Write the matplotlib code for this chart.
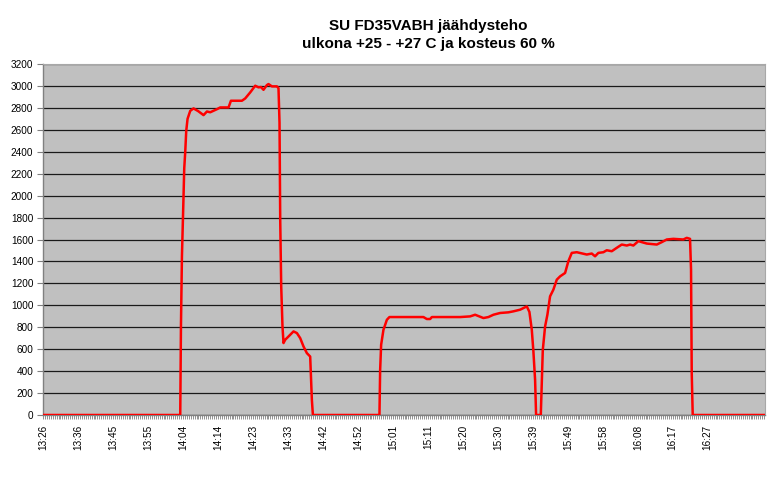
import numpy as np
import matplotlib
matplotlib.use('Agg')
import matplotlib.pyplot as plt
import matplotlib.ticker as mticker

plt.rcParams['font.family'] = ['Liberation Sans', 'DejaVu Sans']

# ── Data: minutes after 13:26 and cooling power (W) ──
minutes = [0.0, 37.37, 37.56, 37.83, 38.19, 38.46, 38.73, 39.00, 39.36, 40.09,
           40.99, 42.27, 43.71, 44.64, 45.54, 47.36, 48.26, 50.52, 51.17, 54.16,
           55.06, 56.42, 57.78, 58.68, 59.33, 60.04, 60.97, 61.40, 62.33, 63.69,
           64.12, 64.40, 64.59, 64.86, 65.21, 65.49, 65.95, 66.85, 68.21, 69.13,
           70.03, 70.93, 71.85, 72.75, 73.21, 73.49,
           91.61, 91.80, 92.07, 92.70, 93.63, 94.33, 103.59, 104.51, 105.41, 105.88,
           109.03, 113.58, 116.30, 117.66, 119.92, 121.28, 122.64, 124.46, 126.72, 128.08,
           129.91, 131.73, 132.44, 133.09, 133.53, 133.99, 134.26, 135.54, 136.09, 136.71,
           137.34, 138.07, 138.97, 139.90, 140.80, 142.16, 143.05, 143.98, 145.34, 148.06,
           149.42, 150.32, 151.22, 152.58, 153.50, 154.86, 156.22, 157.59, 158.95, 159.85,
           160.75, 162.11, 163.04, 164.40, 167.12, 168.48, 169.84, 171.63, 174.36, 175.28,
           176.18, 176.45, 176.64, 176.91, 196.59]
power = [0, 0, 805, 1447, 1900, 2250, 2400, 2590, 2700, 2773,
         2795, 2770, 2734, 2767, 2760, 2788, 2804, 2804, 2865, 2865,
         2886, 2941, 3002, 2987, 2990, 2965, 3008, 3017, 2996, 2996,
         2980, 2667, 1783, 1173, 807, 656, 686, 716, 762, 747,
         701, 625, 564, 533, 137, 0,
         0, 411, 640, 777, 868, 893, 893, 875, 875, 893,
         893, 893, 899, 914, 884, 893, 914, 930, 936, 945,
         960, 990, 940, 777, 579, 320, 0, 0, 594, 807,
         914, 1082, 1143, 1234, 1264, 1295, 1402, 1478, 1484, 1463,
         1472, 1447, 1478, 1484, 1502, 1493, 1524, 1554, 1545, 1554,
         1545, 1585, 1576, 1563, 1554, 1576, 1600, 1606, 1600, 1615,
         1606, 1326, 381, 0, 0]

tick_labels = ['13:26', '13:36', '13:45', '13:55', '14:04', '14:14', '14:23',
               '14:33', '14:42', '14:52', '15:01', '15:11', '15:20', '15:30',
               '15:39', '15:49', '15:58', '16:08', '16:17', '16:27']

step = 181 / 19  # label spacing in minutes
tick_pos = np.arange(len(tick_labels)) * step

fig = plt.figure(figsize=(7.78, 4.78), dpi=100)
ax = fig.add_axes([43 / 778, 63 / 478, 722 / 778, 351 / 478])
ax.set_facecolor('#C0C0C0')

ax.plot(minutes, power, color='#FF0000', linewidth=1.8, zorder=3)

ax.set_xlim(0, 196.59)
ax.set_ylim(0, 3200)
ax.yaxis.set_major_locator(mticker.MultipleLocator(200))
ax.grid(axis='y', color='#1a1a1a', linewidth=0.9, zorder=1)
ax.set_axisbelow(True)

ax.set_xticks(tick_pos)
ax.set_xticklabels(tick_labels, rotation=90, fontsize=7.2)
ax.xaxis.set_minor_locator(mticker.MultipleLocator(step / 18))
ax.tick_params(axis='x', which='both', length=3, width=0.6, color='#808080', pad=4)
ax.tick_params(axis='y', length=4, width=0.8, color='#808080', labelsize=7.2, pad=3)

for s in ['left', 'bottom']:
    ax.spines[s].set_color('#808080')
    ax.spines[s].set_linewidth(1.0)
for s in ['top', 'right']:
    ax.spines[s].set_color('#A8A8A8')
    ax.spines[s].set_linewidth(0.8)

fig.text(0.55, 1 - 35 / 478, 'SU FD35VABH jäähdysteho\nulkona +25 - +27 C ja kosteus 60 %',
         ha='center', va='center', fontsize=11, fontweight='bold', linespacing=1.3)

plt.savefig('out.png', dpi=100)
